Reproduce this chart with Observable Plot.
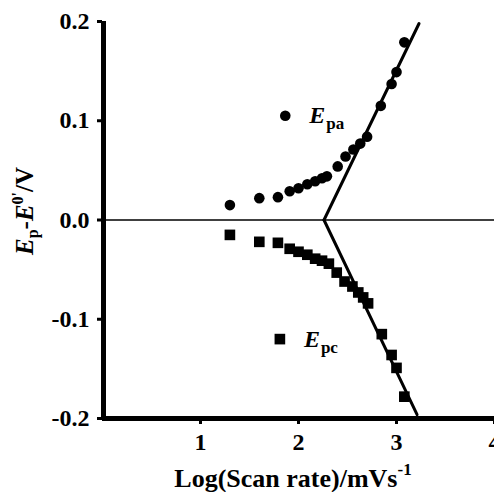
<!DOCTYPE html>
<html>
<head>
<meta charset="utf-8">
<script src="https://cdn.jsdelivr.net/npm/d3@7"></script>
<script src="https://cdn.jsdelivr.net/npm/@observablehq/plot@0.6"></script>
<style>
  html, body { margin: 0; padding: 0; background: #fff; overflow: hidden; }
  #chart svg text { font-weight: bold; font-family: 'Liberation Serif', 'Times New Roman', serif; }
</style>
</head>
<body>
<div id="chart"></div>
<script>
// Anodic peak potentials (Epa - E0') vs log(scan rate)
const epaX = [1.30, 1.60, 1.79, 1.91, 2.00, 2.09, 2.17, 2.24, 2.29, 2.40, 2.48, 2.56, 2.63, 2.70, 2.84, 2.95, 3.00, 3.08];
const epaY = [0.015, 0.022, 0.023, 0.029, 0.032, 0.036, 0.039, 0.042, 0.044, 0.054, 0.064, 0.071, 0.077, 0.084, 0.115, 0.137, 0.149, 0.179];
// Cathodic peak potentials (Epc - E0')
const epcX = [1.30, 1.60, 1.79, 1.91, 2.00, 2.09, 2.17, 2.24, 2.31, 2.39, 2.47, 2.55, 2.61, 2.66, 2.71, 2.85, 2.95, 3.00, 3.08];
const epcY = [-0.015, -0.022, -0.023, -0.029, -0.032, -0.035, -0.039, -0.041, -0.044, -0.053, -0.062, -0.067, -0.073, -0.078, -0.084, -0.115, -0.136, -0.149, -0.178];
// Linear fits of the high scan-rate region
const fitAnoX = [2.26, 3.23];
const fitAnoY = [0, 0.198];
const fitCatX = [2.26, 3.21];
const fitCatY = [0, -0.196];
// Legend entries
const legendPaX = [1.865];
const legendPaY = [0.105];
const legendPcX = [1.81];
const legendPcY = [-0.12];
// Axis ticks
const xTicks = [1, 2, 3, 4];
const yTicks = [-0.2, -0.1, 0, 0.1, 0.2];

const toRows = (xs, ys) => xs.map((x, i) => ({x, y: ys[i]}));
const epa = toRows(epaX, epaY);
const epc = toRows(epcX, epcY);
const fitAno = toRows(fitAnoX, fitAnoY);
const fitCat = toRows(fitCatX, fitCatY);
const legPa = toRows(legendPaX, legendPaY).map(d => ({...d, sub: "pa"}));
const legPc = toRows(legendPcX, legendPcY).map(d => ({...d, sub: "pc"}));
const legend = [...legPa, ...legPc];

const font = "'Liberation Serif', 'Times New Roman', serif";

const plot = Plot.plot({
  width: 494,
  height: 492,
  marginLeft: 102,
  marginRight: 0,
  marginTop: 21,
  marginBottom: 74,
  x: {domain: [0, 4]},
  y: {domain: [-0.2, 0.2]},
  style: {
    fontFamily: font,
    fontWeight: "bold",
    fontSize: "24px",
    background: "white",
    color: "black",
    overflow: "visible"
  },
  marks: [
    Plot.ruleY([0], {stroke: "black", strokeWidth: 1.6}),
    Plot.line(fitAno, {x: "x", y: "y", stroke: "black", strokeWidth: 3}),
    Plot.line(fitCat, {x: "x", y: "y", stroke: "black", strokeWidth: 3}),
    Plot.dot(epa, {x: "x", y: "y", r: 5.3, fill: "black", symbol: "circle"}),
    Plot.dot(epc, {x: "x", y: "y", r: 6, fill: "black", symbol: "square"}),
    Plot.dot(legPa, {x: "x", y: "y", r: 5.3, fill: "black", symbol: "circle"}),
    Plot.dot(legPc, {x: "x", y: "y", r: 6, fill: "black", symbol: "square"}),
    Plot.text(legend, {x: "x", y: "y", text: () => "E", dx: 24, textAnchor: "start", lineAnchor: "middle", fontStyle: "italic", fontWeight: "bold", fontSize: 24}),
    Plot.text(legend, {x: "x", y: "y", text: "sub", dx: 41, dy: 8, textAnchor: "start", lineAnchor: "middle", fontWeight: "bold", fontSize: 17}),
    Plot.axisX({ticks: xTicks, tickSize: 6, tickPadding: 8, strokeWidth: 3, label: null, fontWeight: "bold", fontSize: 24, tickFormat: d => String(d)}),
    Plot.axisY({ticks: yTicks, tickSize: 5, tickPadding: 8, strokeWidth: 3, label: null, fontWeight: "bold", fontSize: 24, tickFormat: d => d.toFixed(1)}),
    Plot.ruleX([0], {stroke: "black", strokeWidth: 5, dx: 1}),
    Plot.ruleY([-0.2], {stroke: "black", strokeWidth: 5})
  ]
});

const svg = d3.select(plot);
// y-axis title: E_p - E^0' / V
const yl = svg.append("text")
  .attr("transform", "translate(33,211) rotate(-90)")
  .attr("text-anchor", "middle")
  .attr("font-family", font)
  .attr("font-size", 25)
  .attr("font-weight", "bold")
  .attr("fill", "black");
yl.append("tspan").attr("font-style", "italic").text("E");
yl.append("tspan").attr("font-size", 16).attr("dy", 5).text("p");
yl.append("tspan").attr("dy", -5).text("-");
yl.append("tspan").attr("font-style", "italic").text("E");
yl.append("tspan").attr("font-size", 16).attr("dy", -10).text("0'");
yl.append("tspan").attr("dy", 10).text("/V");

// x-axis title: Log(Scan rate)/mVs^-1
const xl = svg.append("text")
  .attr("x", 293)
  .attr("y", 487)
  .attr("text-anchor", "middle")
  .attr("font-family", font)
  .attr("font-size", 26)
  .attr("font-weight", "bold")
  .attr("fill", "black");
xl.append("tspan").text("Log(Scan rate)/mVs");
xl.append("tspan").attr("font-size", 17).attr("dy", -12).text("-1");

document.getElementById("chart").append(plot);
</script>
</body>
</html>
